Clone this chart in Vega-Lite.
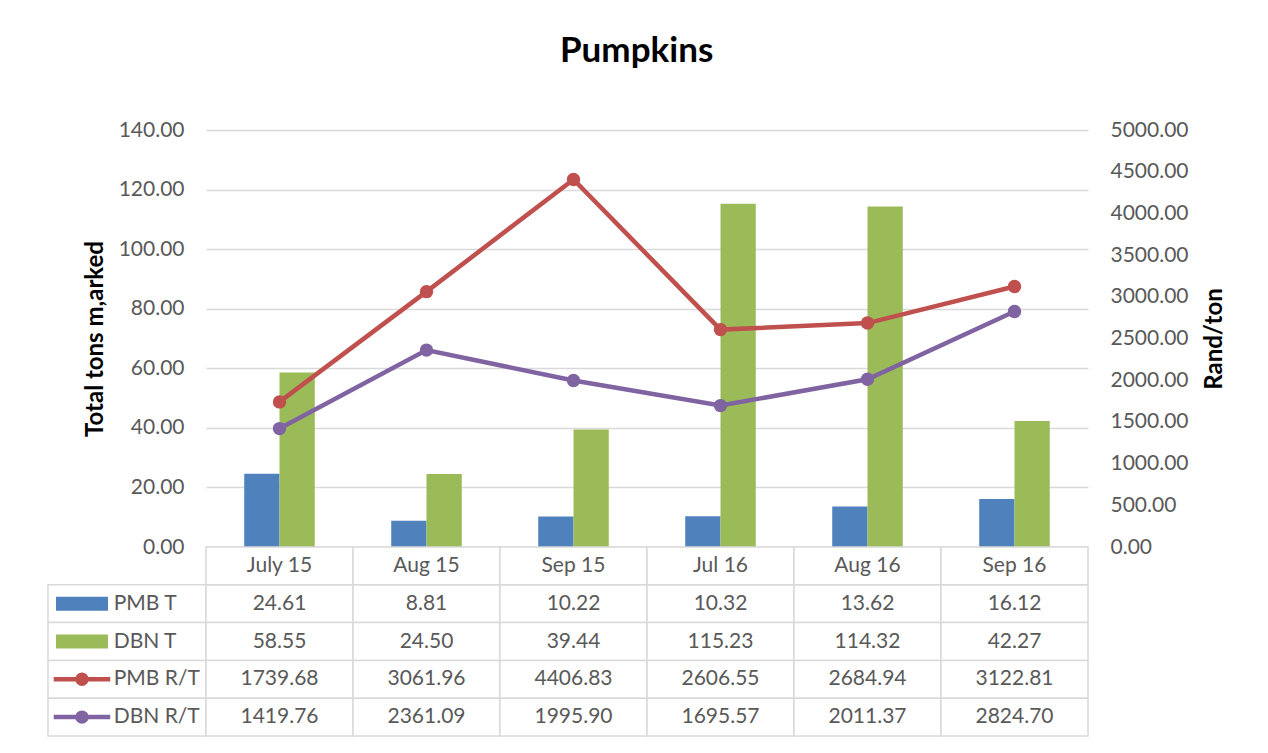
{
  "$schema": "https://vega.github.io/schema/vega-lite/v6.json",
  "padding": {"left": 47, "top": 34, "right": 0, "bottom": 0},
  "background": "white",
  "config": {"font": "Lato", "view": {"stroke": null}},
  "title": {"text": "Pumpkins", "fontSize": 35, "fontWeight": "bold", "color": "#000000", "font": "Lato", "anchor": "middle", "frame": "bounds", "offset": 50},
  "datasets": {
    "vals": [
      {"month": "July 15", "series": "PMB T", "value": 24.61},
      {"month": "Aug 15", "series": "PMB T", "value": 8.81},
      {"month": "Sep 15", "series": "PMB T", "value": 10.22},
      {"month": "Jul 16", "series": "PMB T", "value": 10.32},
      {"month": "Aug 16", "series": "PMB T", "value": 13.62},
      {"month": "Sep 16", "series": "PMB T", "value": 16.12},
      {"month": "July 15", "series": "DBN T", "value": 58.55},
      {"month": "Aug 15", "series": "DBN T", "value": 24.50},
      {"month": "Sep 15", "series": "DBN T", "value": 39.44},
      {"month": "Jul 16", "series": "DBN T", "value": 115.23},
      {"month": "Aug 16", "series": "DBN T", "value": 114.32},
      {"month": "Sep 16", "series": "DBN T", "value": 42.27},
      {"month": "July 15", "series": "PMB R/T", "value": 1739.68},
      {"month": "Aug 15", "series": "PMB R/T", "value": 3061.96},
      {"month": "Sep 15", "series": "PMB R/T", "value": 4406.83},
      {"month": "Jul 16", "series": "PMB R/T", "value": 2606.55},
      {"month": "Aug 16", "series": "PMB R/T", "value": 2684.94},
      {"month": "Sep 16", "series": "PMB R/T", "value": 3122.81},
      {"month": "July 15", "series": "DBN R/T", "value": 1419.76},
      {"month": "Aug 15", "series": "DBN R/T", "value": 2361.09},
      {"month": "Sep 15", "series": "DBN R/T", "value": 1995.90},
      {"month": "Jul 16", "series": "DBN R/T", "value": 1695.57},
      {"month": "Aug 16", "series": "DBN R/T", "value": 2011.37},
      {"month": "Sep 16", "series": "DBN R/T", "value": 2824.70}
    ]
  },
  "columns": 2,
  "spacing": 0,
  "bounds": "flush",
  "concat": [
    {
      "width": 158, "height": 417,
      "data": {"values": [{}]},
      "mark": {"type": "text", "text": ""}
    },
    {
      "width": 882, "height": 417,
      "data": {"name": "vals"},
      "layer": [
        {
          "transform": [{"filter": {"field": "series", "oneOf": ["PMB T", "DBN T"]}}],
          "mark": {"type": "bar"},
          "encoding": {
            "x": {"field": "month", "type": "nominal", "scale": {"domain": ["July 15", "Aug 15", "Sep 15", "Jul 16", "Aug 16", "Sep 16"], "paddingInner": 0.52, "paddingOuter": 0.26}, "axis": {"labels": false, "ticks": false, "title": null, "domain": true, "domainColor": "#D9D9D9", "domainWidth": 1.5}},
            "xOffset": {"field": "series", "type": "nominal", "scale": {"domain": ["PMB T", "DBN T"], "paddingInner": 0, "paddingOuter": 0}},
            "y": {"field": "value", "type": "quantitative", "scale": {"domain": [0, 140], "nice": false},
              "axis": {"values": [0, 20, 40, 60, 80, 100, 120, 140], "format": ".2f", "grid": true, "gridColor": "#D9D9D9", "gridWidth": 1.3, "domain": false, "ticks": false, "labelFontSize": 21, "labelColor": "#595959", "labelPadding": 22, "title": "Total tons m,arked", "titleFontSize": 24, "titleFontWeight": "bold", "titleColor": "#000000", "titlePadding": 11}},
            "color": {"field": "series", "type": "nominal", "scale": {"domain": ["PMB T", "DBN T", "PMB R/T", "DBN R/T"], "range": ["#4F81BD", "#9BBB59", "#C0504D", "#8064A2"]}, "legend": null}
          }
        },
        {
          "transform": [{"filter": {"field": "series", "oneOf": ["PMB R/T", "DBN R/T"]}}],
          "mark": {"type": "line", "strokeWidth": 4.5, "point": {"filled": true, "size": 180, "opacity": 1}},
          "encoding": {
            "x": {"field": "month", "type": "nominal"},
            "y": {"field": "value", "type": "quantitative", "scale": {"domain": [0, 5000], "nice": false},
              "axis": {"orient": "right", "values": [0, 500, 1000, 1500, 2000, 2500, 3000, 3500, 4000, 4500, 5000], "format": ".2f", "grid": false, "domain": false, "ticks": false, "labelFontSize": 21, "labelColor": "#595959", "labelPadding": 22, "title": "Rand/ton", "titleAngle": 270, "titleBaseline": "top", "titleFontSize": 24, "titleFontWeight": "bold", "titleColor": "#000000", "titlePadding": 14}},
            "color": {"field": "series", "type": "nominal", "legend": null},
            "order": {"value": null}
          }
        }
      ],
      "resolve": {"scale": {"y": "independent"}}
    },
    {
      "width": 158, "height": 189,
      "data": {"name": "vals"},
      "transform": [{"filter": {"field": "month", "equal": "July 15"}}],
      "layer": [
        {
          "mark": {"type": "rect", "fill": "white", "stroke": "#D9D9D9", "strokeWidth": 1.5},
          "encoding": {
            "y": {"field": "series", "type": "nominal", "scale": {"domain": ["hdr", "PMB T", "DBN T", "PMB R/T", "DBN R/T"], "paddingInner": 0, "paddingOuter": 0}, "axis": null}
          }
        },
        {
          "transform": [{"filter": {"field": "series", "oneOf": ["PMB T", "DBN T"]}}],
          "mark": {"type": "point", "shape": "M-1,-0.27L1,-0.27L1,0.27L-1,0.27Z", "size": 2704, "filled": true, "opacity": 1},
          "encoding": {
            "x": {"datum": 0.215, "type": "quantitative", "scale": {"domain": [0, 1], "nice": false, "zero": false}, "axis": null},
            "y": {"field": "series", "type": "nominal"},
            "color": {"field": "series", "type": "nominal", "scale": {"domain": ["PMB T", "DBN T", "PMB R/T", "DBN R/T"], "range": ["#4F81BD", "#9BBB59", "#C0504D", "#8064A2"]}, "legend": null}
          }
        },
        {
          "transform": [{"filter": {"field": "series", "oneOf": ["PMB R/T", "DBN R/T"]}}],
          "mark": {"type": "point", "shape": "M-1,-0.08L1,-0.08L1,0.08L-1,0.08Z", "size": 3200, "filled": true, "opacity": 1},
          "encoding": {
            "x": {"datum": 0.215, "type": "quantitative"},
            "y": {"field": "series", "type": "nominal"},
            "color": {"field": "series", "type": "nominal", "legend": null}
          }
        },
        {
          "transform": [{"filter": {"field": "series", "oneOf": ["PMB R/T", "DBN R/T"]}}],
          "mark": {"type": "point", "shape": "circle", "size": 180, "filled": true, "opacity": 1},
          "encoding": {
            "x": {"datum": 0.215, "type": "quantitative"},
            "y": {"field": "series", "type": "nominal"},
            "color": {"field": "series", "type": "nominal", "legend": null}
          }
        },
        {
          "mark": {"type": "text", "align": "left", "baseline": "middle", "fontSize": 21, "color": "#595959"},
          "encoding": {
            "x": {"datum": 0.416, "type": "quantitative"},
            "y": {"field": "series", "type": "nominal"},
            "text": {"field": "series", "type": "nominal"}
          }
        }
      ]
    },
    {
      "width": 882, "height": 189,
      "data": {"name": "vals"},
      "layer": [
        {
          "mark": {"type": "rect", "fill": "white", "stroke": "#D9D9D9", "strokeWidth": 1.5},
          "encoding": {
            "x": {"field": "month", "type": "nominal", "scale": {"domain": ["July 15", "Aug 15", "Sep 15", "Jul 16", "Aug 16", "Sep 16"], "paddingInner": 0, "paddingOuter": 0}, "axis": null},
            "y": {"field": "series", "type": "nominal", "scale": {"domain": ["hdr", "PMB T", "DBN T", "PMB R/T", "DBN R/T"], "paddingInner": 0, "paddingOuter": 0}, "axis": null}
          }
        },
        {
          "transform": [{"filter": {"field": "series", "equal": "PMB T"}}],
          "mark": {"type": "rect", "fill": "white", "stroke": "#D9D9D9", "strokeWidth": 1.5},
          "encoding": {
            "x": {"field": "month", "type": "nominal"},
            "y": {"datum": "hdr", "type": "nominal"}
          }
        },
        {
          "mark": {"type": "text", "baseline": "middle", "fontSize": 21, "color": "#595959"},
          "encoding": {
            "x": {"field": "month", "type": "nominal"},
            "y": {"field": "series", "type": "nominal"},
            "text": {"field": "value", "type": "quantitative", "format": ".2f"}
          }
        },
        {
          "transform": [{"filter": {"field": "series", "equal": "PMB T"}}],
          "mark": {"type": "text", "baseline": "middle", "fontSize": 21, "color": "#595959"},
          "encoding": {
            "x": {"field": "month", "type": "nominal"},
            "y": {"datum": "hdr", "type": "nominal"},
            "text": {"field": "month", "type": "nominal"}
          }
        }
      ]
    }
  ]
}
